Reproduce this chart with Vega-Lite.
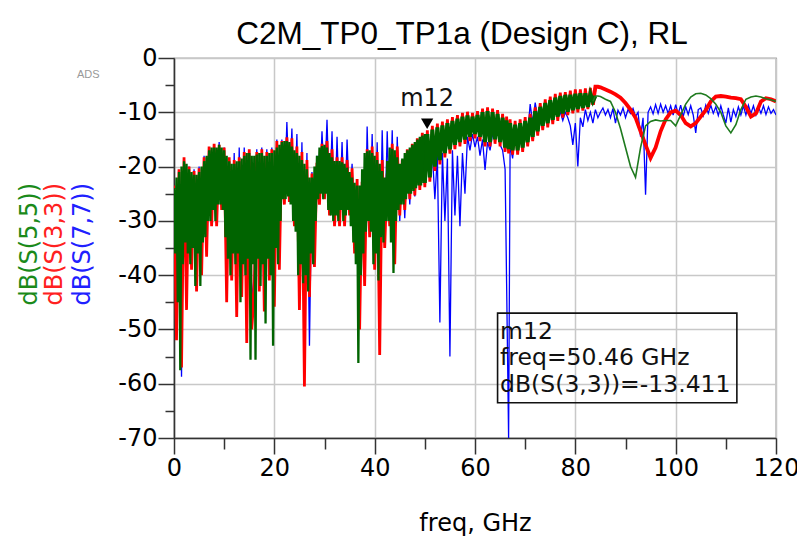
{
  "$schema": "https://vega.github.io/schema/vega-lite/v6.json",
  "width": 602,
  "height": 380,
  "autosize": {"type": "none"},
  "padding": {"left": 174, "top": 58, "right": 21, "bottom": 100},
  "background": "white",
  "config": {"view": {"stroke": "#555", "strokeWidth": 1.2}, "font": "Liberation Sans"},
  "title": {"text": "C2M_TP0_TP1a (Design C), RL", "fontSize": 31.5, "font": "Liberation Sans", "fontWeight": "normal", "color": "#000", "anchor": "middle", "frame": "group", "baseline": "alphabetic", "offset": -29, "dx": -13},
  "datasets": {
    "g0": [
      {"f":0,"g":-24},{"f":0.25,"g":-36},{"f":0.5,"g":-22},{"f":0.75,"g":-45},
      {"f":1,"g":-21},{"f":1.25,"g":-57.5},{"f":1.5,"g":-20},{"f":1.75,"g":-38},
      {"f":2,"g":-19},{"f":2.25,"g":-34},{"f":2.5,"g":-19.5},{"f":2.75,"g":-36},
      {"f":3,"g":-20.5},{"f":3.25,"g":-38},{"f":3.5,"g":-21},{"f":3.75,"g":-35},
      {"f":4,"g":-21.5},{"f":4.25,"g":-42},{"f":4.5,"g":-21.5},{"f":4.75,"g":-36},
      {"f":5,"g":-21},{"f":5.25,"g":-42},{"f":5.5,"g":-20},{"f":5.75,"g":-34},
      {"f":6,"g":-19},{"f":6.25,"g":-33},{"f":6.5,"g":-18},{"f":6.75,"g":-30},
      {"f":7,"g":-17},{"f":7.25,"g":-30},{"f":7.5,"g":-16.5},{"f":7.75,"g":-28},
      {"f":8,"g":-16.5},{"f":8.25,"g":-30},{"f":8.5,"g":-16.5},{"f":8.75,"g":-27},
      {"f":9,"g":-16},{"f":9.25,"g":-27},{"f":9.5,"g":-16.5},{"f":9.75,"g":-28},
      {"f":10,"g":-17},{"f":10.25,"g":-33},{"f":10.5,"g":-18},{"f":10.75,"g":-37},
      {"f":11,"g":-19},{"f":11.25,"g":-40},{"f":11.5,"g":-19.5},{"f":11.75,"g":-36},
      {"f":12,"g":-19.5},{"f":12.25,"g":-38},{"f":12.5,"g":-19},{"f":12.75,"g":-36},
      {"f":13,"g":-19},{"f":13.25,"g":-45},{"f":13.5,"g":-18.5},{"f":13.75,"g":-38},
      {"f":14,"g":-18},{"f":14.25,"g":-40},{"f":14.5,"g":-17.5},{"f":14.75,"g":-37},
      {"f":15,"g":-17.5},{"f":15.25,"g":-55.6},{"f":15.5,"g":-18},{"f":15.75,"g":-38},
      {"f":16,"g":-18},{"f":16.25,"g":-55.6},{"f":16.5,"g":-17.8},{"f":16.75,"g":-37},
      {"f":17,"g":-17.5},{"f":17.25,"g":-42},{"f":17.5,"g":-17.5},{"f":17.75,"g":-38},
      {"f":18,"g":-18},{"f":18.25,"g":-48.9},{"f":18.5,"g":-18},{"f":18.75,"g":-37},
      {"f":19,"g":-17.5},{"f":19.25,"g":-40},{"f":19.5,"g":-17.5},{"f":19.75,"g":-53},
      {"f":20,"g":-17},{"f":20.25,"g":-35},{"f":20.5,"g":-16.5},{"f":20.75,"g":-38},
      {"f":21,"g":-16},{"f":21.25,"g":-30},{"f":21.5,"g":-15.5},{"f":21.75,"g":-26},
      {"f":22,"g":-15.3},{"f":22.25,"g":-26},{"f":22.5,"g":-15.3},{"f":22.75,"g":-25.5},
      {"f":23,"g":-15.5},{"f":23.25,"g":-27},{"f":23.5,"g":-16.3},{"f":23.75,"g":-30},
      {"f":24,"g":-17},{"f":24.25,"g":-32},{"f":24.5,"g":-17.5},{"f":24.75,"g":-40},
      {"f":25,"g":-18},{"f":25.25,"g":-38},{"f":25.5,"g":-18.8},{"f":25.75,"g":-41.5},
      {"f":26,"g":-19.5},{"f":26.25,"g":-40},{"f":26.5,"g":-20.5},{"f":26.75,"g":-43},
      {"f":27,"g":-22},{"f":27.25,"g":-36},{"f":27.5,"g":-22},{"f":27.75,"g":-38},
      {"f":28,"g":-20},{"f":28.25,"g":-30},{"f":28.5,"g":-18},{"f":28.75,"g":-26},
      {"f":29,"g":-16.5},{"f":29.25,"g":-25},{"f":29.5,"g":-16.2},{"f":29.75,"g":-26},
      {"f":30,"g":-16},{"f":30.25,"g":-25},{"f":30.5,"g":-16.5},{"f":30.75,"g":-28},
      {"f":31,"g":-17.5},{"f":31.25,"g":-29},{"f":31.5,"g":-18.3},{"f":31.75,"g":-30},
      {"f":32,"g":-19},{"f":32.25,"g":-29},{"f":32.5,"g":-19},{"f":32.75,"g":-30},
      {"f":33,"g":-19},{"f":33.25,"g":-28},{"f":33.5,"g":-19.2},{"f":33.75,"g":-30},
      {"f":34,"g":-19.5},{"f":34.25,"g":-29},{"f":34.5,"g":-20.2},{"f":34.75,"g":-28},
      {"f":35,"g":-21},{"f":35.25,"g":-31},{"f":35.5,"g":-22},{"f":35.75,"g":-34},
      {"f":36,"g":-23},{"f":36.25,"g":-38},{"f":36.5,"g":-23.5},{"f":36.75,"g":-56.2},
      {"f":37,"g":-23.5},{"f":37.25,"g":-40},{"f":37.5,"g":-20.5},{"f":37.75,"g":-36},
      {"f":38,"g":-17.5},{"f":38.25,"g":-32},{"f":38.5,"g":-17.2},{"f":38.75,"g":-30},
      {"f":39,"g":-17},{"f":39.25,"g":-32},{"f":39.5,"g":-17.5},{"f":39.75,"g":-38},
      {"f":40,"g":-18},{"f":40.25,"g":-36},{"f":40.5,"g":-18.8},{"f":40.75,"g":-41},
      {"f":41,"g":-19.5},{"f":41.25,"g":-33},{"f":41.5,"g":-20.8},{"f":41.75,"g":-34},
      {"f":42,"g":-22},{"f":42.25,"g":-30},{"f":42.5,"g":-19},{"f":42.75,"g":-30},
      {"f":43,"g":-16.5},{"f":43.25,"g":-34},{"f":43.5,"g":-16.7},{"f":43.75,"g":-39.6},
      {"f":44,"g":-17},{"f":44.25,"g":-30},{"f":44.5,"g":-18.3},{"f":44.75,"g":-28},
      {"f":45,"g":-19.5},{"f":45.25,"g":-27},{"f":45.5,"g":-18.5},{"f":45.75,"g":-27},
      {"f":46,"g":-17.5},{"f":46.25,"g":-26},{"f":46.5,"g":-17},{"f":46.75,"g":-25},
      {"f":47,"g":-16.5},{"f":47.25,"g":-25},{"f":47.5,"g":-16},{"f":47.75,"g":-24.5},
      {"f":48,"g":-15.5},{"f":48.25,"g":-24},{"f":48.5,"g":-15},{"f":48.75,"g":-23.5},
      {"f":49,"g":-14.5},{"f":49.25,"g":-23.5},{"f":49.5,"g":-14.3},{"f":49.75,"g":-23},
      {"f":50,"g":-14}
    ],
    "sp": [
      {"f":0,"r":-23.5,"b":-24.5},
      {"f":0.5,"r":-52,"b":-40},
      {"f":1,"r":-20.5,"b":-21},
      {"f":1.5,"r":-57,"b":-58.7},
      {"f":2,"r":-18.3,"b":-19},
      {"f":2.5,"r":-46.4,"b":-35},
      {"f":3,"r":-20,"b":-20},
      {"f":3.5,"r":-39,"b":-36},
      {"f":4,"r":-20.8,"b":-20.5},
      {"f":4.5,"r":-43,"b":-42.4},
      {"f":5,"r":-20.3,"b":-20},
      {"f":5.5,"r":-40,"b":-38},
      {"f":6,"r":-18.3,"b":-18},
      {"f":6.5,"r":-36.6,"b":-34},
      {"f":7,"r":-16.3,"b":-16.5},
      {"f":7.5,"r":-31,"b":-30},
      {"f":8,"r":-15.8,"b":-16},
      {"f":8.5,"r":-31,"b":-29},
      {"f":9,"r":-16,"b":-15.5},
      {"f":9.5,"r":-28,"b":-27},
      {"f":10,"r":-16.5,"b":-16.5},
      {"f":10.5,"r":-45,"b":-38},
      {"f":11,"r":-18.3,"b":-18.5},
      {"f":11.5,"r":-41,"b":-40},
      {"f":12,"r":-18.8,"b":-17.5},
      {"f":12.5,"r":-47.7,"b":-45},
      {"f":13,"r":-18.3,"b":-16.5},
      {"f":13.5,"r":-44,"b":-42},
      {"f":14,"r":-17.3,"b":-16.5},
      {"f":14.5,"r":-52.5,"b":-48},
      {"f":15,"r":-16.8,"b":-17},
      {"f":15.5,"r":-50,"b":-45},
      {"f":16,"r":-43,"b":-40},
      {"f":16.5,"r":-17.3,"b":-16.8},
      {"f":17,"r":-43,"b":-40},
      {"f":17.5,"r":-16.8,"b":-16.5},
      {"f":18,"r":-46.7,"b":-44},
      {"f":18.5,"r":-17.3,"b":-16.8},
      {"f":19,"r":-41,"b":-38},
      {"f":19.5,"r":-16.8,"b":-16.5},
      {"f":20,"r":-45.8,"b":-42},
      {"f":20.5,"r":-15.3,"b":-15},
      {"f":21,"r":-39,"b":-36},
      {"f":21.5,"r":-15.3,"b":-15},
      {"f":22,"r":-27,"b":-26},
      {"f":22.5,"r":-14.6,"b":-11.8},
      {"f":23,"r":-26.5,"b":-25},
      {"f":23.5,"r":-14.8,"b":-13},
      {"f":24,"r":-31,"b":-29},
      {"f":24.5,"r":-16.3,"b":-14},
      {"f":25,"r":-46.4,"b":-40},
      {"f":25.5,"r":-17.3,"b":-15.5},
      {"f":26,"r":-60.5,"b":-44},
      {"f":26.5,"r":-18.8,"b":-17.5},
      {"f":27,"r":-44,"b":-53},
      {"f":27.5,"r":-21.3,"b":-21},
      {"f":28,"r":-38.5,"b":-37},
      {"f":28.5,"r":-19.3,"b":-18},
      {"f":29,"r":-27,"b":-26},
      {"f":29.5,"r":-15.8,"b":-13.5},
      {"f":30,"r":-26,"b":-24},
      {"f":30.5,"r":-15.3,"b":-11.4},
      {"f":31,"r":-29,"b":-27},
      {"f":31.5,"r":-16.8,"b":-13.5},
      {"f":32,"r":-31,"b":-30},
      {"f":32.5,"r":-18.3,"b":-14.5},
      {"f":33,"r":-31,"b":-29},
      {"f":33.5,"r":-18.3,"b":-15.5},
      {"f":34,"r":-31,"b":-30},
      {"f":34.5,"r":-18.8,"b":-15},
      {"f":35,"r":-29,"b":-28},
      {"f":35.5,"r":-20.3,"b":-19.5},
      {"f":36,"r":-36,"b":-33},
      {"f":36.5,"r":-22.3,"b":-23},
      {"f":37,"r":-50,"b":-45},
      {"f":37.5,"r":-22.8,"b":-22.5},
      {"f":38,"r":-42,"b":-39},
      {"f":38.5,"r":-16.8,"b":-12.6},
      {"f":39,"r":-33,"b":-31},
      {"f":39.5,"r":-16.3,"b":-14},
      {"f":40,"r":-39,"b":-36},
      {"f":40.5,"r":-17.3,"b":-15.5},
      {"f":41,"r":-54.7,"b":-40},
      {"f":41.5,"r":-18.8,"b":-13.3},
      {"f":42,"r":-35,"b":-33},
      {"f":42.5,"r":-21.3,"b":-13.5},
      {"f":43,"r":-31,"b":-30},
      {"f":43.5,"r":-15.8,"b":-13.3},
      {"f":44,"r":-38,"b":-35},
      {"f":44.5,"r":-16.3,"b":-14.5},
      {"f":45,"r":-29,"b":-30},
      {"f":45.5,"r":-18.8,"b":-19},
      {"f":46,"r":-28,"b":-29.5},
      {"f":46.5,"r":-16.8,"b":-17.5},
      {"f":47,"r":-26,"b":-27},
      {"f":47.5,"r":-15.8,"b":-16.5},
      {"f":48,"r":-25.3,"b":-25.5},
      {"f":48.5,"r":-14.8,"b":-15.5},
      {"f":49,"r":-24.3,"b":-24},
      {"f":49.5,"r":-13.8,"b":-14.5},
      {"f":50,"g":-23,"r":-23.8,"b":-23},
      {"f":50.5,"g":-14,"r":-13.3,"b":-14},
      {"f":51,"g":-22,"r":-22.8,"b":-22},
      {"f":51.5,"g":-13.2,"r":-12.5,"b":-17.5},
      {"f":52,"g":-20,"r":-20.8,"b":-26},
      {"f":52.5,"g":-12.8,"r":-12.1,"b":-18},
      {"f":53,"g":-18.8,"r":-19.6,"b":-48.7},
      {"f":53.5,"g":-12.4,"r":-11.7,"b":-17.5},
      {"f":54,"g":-17.5,"r":-18.3,"b":-30},
      {"f":54.5,"g":-12,"r":-11.3,"b":-18.5},
      {"f":55,"g":-16.8,"r":-17.6,"b":-55},
      {"f":55.5,"g":-11.6,"r":-10.9,"b":-17},
      {"f":56,"g":-16,"r":-16.8,"b":-29},
      {"f":56.5,"g":-11.2,"r":-10.5,"b":-18},
      {"f":57,"g":-15.5,"r":-16.3,"b":-31},
      {"f":57.5,"g":-10.8,"r":-10.1,"b":-17.5},
      {"f":58,"g":-15,"r":-15.8,"b":-25},
      {"f":58.5,"g":-10.6,"r":-9.9,"b":-14.5},
      {"f":59,"g":-14.5,"r":-15.3,"b":-17},
      {"f":59.5,"g":-10.8,"r":-10.1,"b":-14},
      {"f":60,"g":-14,"r":-14.8,"b":-16.4},
      {"f":60.5,"g":-10.5,"r":-9.8,"b":-14.5},
      {"f":61,"g":-14.5,"r":-15.3,"b":-18},
      {"f":61.5,"g":-10,"r":-9.3,"b":-15},
      {"f":62,"g":-15.5,"r":-16.3,"b":-20.6},
      {"f":62.5,"g":-9.8,"r":-9.1,"b":-15.5},
      {"f":63,"g":-15.5,"r":-16.3,"b":-17},
      {"f":63.5,"g":-10,"r":-9.3,"b":-14},
      {"f":64,"g":-15,"r":-15.8,"b":-15},
      {"f":64.5,"g":-10.3,"r":-9.6,"b":-12},
      {"f":65,"g":-15.5,"r":-16.3,"b":-16},
      {"f":65.5,"g":-11,"r":-10.3,"b":-17},
      {"f":66,"g":-16.5,"r":-17.3,"b":-20.5},
      {"f":66.3,"g":-11.5,"r":-10.8,"b":-41.5},
      {"f":66.7,"g":-16.8,"r":-17.6,"b":-70},
      {"f":67,"g":-12,"r":-11.3,"b":-16},
      {"f":67.5,"g":-17,"r":-17.8,"b":-18.5},
      {"f":68,"g":-12.3,"r":-11.6,"b":-13.5},
      {"f":68.5,"g":-17,"r":-17.8,"b":-17},
      {"f":69,"g":-12,"r":-11.3,"b":-13},
      {"f":69.5,"g":-16.5,"r":-17.3,"b":-16},
      {"f":70,"g":-11.6,"r":-10.9,"b":-11.5},
      {"f":70.5,"g":-15.5,"r":-16.3,"b":-14},
      {"f":71,"g":-11,"r":-10.3,"b":-8.5},
      {"f":71.5,"g":-14.5,"r":-15.3,"b":-12},
      {"f":72,"g":-9.8,"r":-9.1,"b":-8.2},
      {"f":72.5,"g":-13.5,"r":-14.3,"b":-11},
      {"f":73,"g":-9,"r":-8.3,"b":-8.6},
      {"f":73.5,"g":-12.5,"r":-13.3,"b":-12},
      {"f":74,"g":-8.3,"r":-7.6,"b":-9.5},
      {"f":74.5,"g":-12,"r":-12.8,"b":-11.5},
      {"f":75,"g":-7.8,"r":-7.1,"b":-9.5},
      {"f":75.5,"g":-11.4,"r":-12.2,"b":-11.5},
      {"f":76,"g":-7.3,"r":-6.6,"b":-9.8},
      {"f":76.5,"g":-10.8,"r":-11.6,"b":-11},
      {"f":77,"g":-7,"r":-6.4,"b":-10},
      {"f":77.5,"g":-10.2,"r":-11,"b":-11.5},
      {"f":78,"g":-6.8,"r":-6.3,"b":-10},
      {"f":78.5,"g":-9.9,"r":-10.5,"b":-11},
      {"f":79,"g":-6.8,"r":-6,"b":-12.5},
      {"f":79.5,"g":-9.6,"r":-10.2,"b":-16},
      {"f":80,"g":-6.6,"r":-5.8,"b":-12},
      {"f":80.5,"g":-9.4,"r":-10,"b":-20},
      {"f":81,"g":-6.5,"r":-5.8,"b":-11},
      {"f":81.5,"g":-9.2,"r":-9.7,"b":-12.7},
      {"f":82,"g":-6.5,"r":-5.6,"b":-9.5},
      {"f":82.5,"g":-9,"r":-9.4,"b":-11.5},
      {"f":83,"g":-6.6,"r":-5.5,"b":-10},
      {"f":83.5,"g":-8,"r":-8.6,"b":-12},
      {"f":84,"g":-7,"r":-5.3,"b":-9.5},
      {"f":84.5,"g":-7,"r":-5.3,"b":-11},
      {"f":85,"g":-7.1,"r":-5.4,"b":-10},
      {"f":85.5,"b":-9.2},
      {"f":86,"g":-7.6,"r":-5.8,"b":-10.5},
      {"f":86.5,"b":-9.5},
      {"f":87,"g":-8,"r":-6.2,"b":-11},
      {"f":87.5,"b":-9.3},
      {"f":88,"g":-10,"r":-6.7,"b":-12},
      {"f":88.5,"b":-9.6},
      {"f":89,"g":-13,"r":-7.3,"b":-10.5},
      {"f":89.5,"b":-9.2},
      {"f":90,"g":-16.5,"r":-8.3,"b":-11},
      {"f":90.5,"b":-9.5},
      {"f":91,"g":-20,"r":-9.5,"b":-10.2},
      {"f":91.5,"b":-9.3},
      {"f":92,"g":-22,"r":-11,"b":-10.8},
      {"f":92.5,"b":-10},
      {"f":93,"g":-16.5,"r":-13.5,"b":-14.5},
      {"f":93.5,"b":-11},
      {"f":94,"g":-12.5,"r":-16,"b":-25.2},
      {"f":94.5,"b":-10},
      {"f":95,"g":-11.7,"r":-18.4,"b":-9},
      {"f":95.5,"b":-10.3},
      {"f":96,"g":-11.4,"r":-16.5,"b":-8.6},
      {"f":96.5,"b":-10.2},
      {"f":97,"g":-11.6,"r":-13.5,"b":-8.5},
      {"f":97.5,"b":-10},
      {"f":98,"g":-11.5,"r":-11.3,"b":-8.8},
      {"f":98.5,"b":-10.2},
      {"f":99,"g":-11.5,"r":-10,"b":-8.8},
      {"f":99.5,"b":-10.5},
      {"f":100,"g":-12.5,"r":-9.7,"b":-8.6},
      {"f":100.5,"b":-10.3},
      {"f":101,"g":-10.5,"r":-10.5,"b":-8.7},
      {"f":101.5,"b":-10.8},
      {"f":102,"g":-8.5,"r":-12,"b":-9},
      {"f":102.5,"b":-10.4},
      {"f":103,"g":-7.2,"r":-12.6,"b":-8.8},
      {"f":103.5,"b":-10.5},
      {"f":104,"g":-6.6,"r":-12,"b":-13.8},
      {"f":104.5,"b":-9.5},
      {"f":105,"g":-6.5,"r":-10.8,"b":-9.2},
      {"f":105.5,"b":-10.6},
      {"f":106,"g":-6.8,"r":-9.6,"b":-8.7},
      {"f":106.5,"b":-10.2},
      {"f":107,"g":-7.5,"r":-8,"b":-8.7},
      {"f":107.5,"b":-10.2},
      {"f":108,"g":-8.5,"r":-7.1,"b":-9},
      {"f":108.5,"b":-10.6},
      {"f":109,"g":-10,"r":-7,"b":-8.8},
      {"f":109.5,"b":-10.5},
      {"f":110,"g":-12.5,"r":-7.1,"b":-12},
      {"f":110.5,"b":-9.2},
      {"f":111,"g":-13.8,"r":-7.3,"b":-11.8},
      {"f":111.5,"b":-9.5},
      {"f":112,"g":-12.3,"r":-7.4,"b":-10.8},
      {"f":112.5,"b":-9},
      {"f":113,"g":-9.5,"r":-7.6,"b":-10.5},
      {"f":113.5,"b":-8.8},
      {"f":114,"g":-7.6,"r":-9,"b":-10.5},
      {"f":114.5,"b":-8.7},
      {"f":115,"g":-7.2,"r":-10.8,"b":-10.2},
      {"f":115.5,"b":-8.8},
      {"f":116,"g":-7,"r":-10.2,"b":-10.5},
      {"f":116.5,"b":-9},
      {"f":117,"g":-7.2,"r":-8,"b":-10.2},
      {"f":117.5,"b":-8.8},
      {"f":118,"g":-7.5,"r":-7.4,"b":-10.4},
      {"f":118.5,"b":-9},
      {"f":119,"g":-7.7,"r":-7.6,"b":-10.2},
      {"f":119.5,"b":-9.5},
      {"f":120,"g":-8,"r":-8,"b":-10.5}
    ],
    "ylab": [
      {"t":"dB(S(5,5))","f":-28.8,"v":-34.3,"c":"g"},
      {"t":"dB(S(3,3))","f":-23.8,"v":-34.3,"c":"r"},
      {"t":"dB(S(7,7))","f":-18.2,"v":-34.3,"c":"b"}
    ],
    "ads": [{"t":"ADS","f":-17.1,"v":-3.1}],
    "marker": [{"t":"m12","f":50.46,"v":-13.411}],
    "box": [{"f":64.5,"f2":112.2,"v":-47,"v2":-63.5}],
    "boxtext": [
      {"t":"m12","f":65,"v":-51.75},
      {"t":"freq=50.46 GHz","f":65,"v":-56.6},
      {"t":"dB(S(3,3))=-13.411","f":65,"v":-61.5}
    ]
  },
  "encoding": {
    "x": {"field": "f", "type": "quantitative", "scale": {"domain": [0, 120], "nice": false, "zero": false},
      "axis": {"values": [0,10,20,30,40,50,60,70,80,90,100,110,120],
        "labelExpr": "datum.value % 20 === 0 ? '' + datum.value : ''",
        "tickSize": {"condition": {"test": "datum.value % 20 === 0", "value": 16}, "value": 11},
        "gridOpacity": {"condition": {"test": "datum.value % 20 === 0", "value": 1}, "value": 0},
        "grid": true, "gridColor": "#c8c8c8", "gridWidth": 1.5,
        "domainColor": "#333", "domainWidth": 1.5, "tickColor": "#333", "tickWidth": 1.5,
        "labelFontSize": 24, "labelColor": "#000", "labelFont": "DejaVu Sans", "labelPadding": 2,
        "labelFlush": false, "labelOverlap": false,
        "title": "freq, GHz", "titleFontSize": 24, "titleFontWeight": "normal", "titleColor": "#000", "titleFont": "DejaVu Sans", "titlePadding": 31}},
    "y": {"field": "v", "type": "quantitative", "scale": {"domain": [-70, 0], "nice": false, "zero": false},
      "axis": {"values": [-70,-65,-60,-55,-50,-45,-40,-35,-30,-25,-20,-15,-10,-5,0],
        "labelExpr": "datum.value % 10 === 0 ? '' + datum.value : ''",
        "tickSize": {"condition": {"test": "datum.value % 10 === 0", "value": 16}, "value": 9},
        "gridOpacity": {"condition": {"test": "datum.value % 10 === 0", "value": 1}, "value": 0},
        "grid": true, "gridColor": "#c8c8c8", "gridWidth": 1.5,
        "domainColor": "#333", "domainWidth": 1.5, "tickColor": "#333", "tickWidth": 1.5,
        "labelFontSize": 24, "labelColor": "#000", "labelFont": "DejaVu Sans", "labelPadding": 1,
        "labelFlush": false, "labelOverlap": false,
        "title": null}}
  },
  "layer": [
    {
      "data": {"name": "sp"},
      "transform": [{"fold": ["b"], "as": ["s", "v"]}, {"filter": "isValid(datum.v)"}],
      "mark": {"type": "line", "color": "#0000ff", "strokeWidth": 1.3, "clip": true}
    },
    {
      "data": {"name": "sp"},
      "transform": [{"fold": ["r"], "as": ["s", "v"]}, {"filter": "isValid(datum.v) && datum.f <= 84"}],
      "mark": {"type": "line", "color": "#ff0000", "strokeWidth": 2.8, "clip": true}
    },
    {
      "data": {"name": "sp"},
      "transform": [{"fold": ["r"], "as": ["s", "v"]}, {"filter": "isValid(datum.v) && datum.f >= 83.5"}],
      "mark": {"type": "line", "color": "#ff0000", "strokeWidth": 3.8, "clip": true}
    },
    {
      "data": {"name": "g0"},
      "transform": [{"fold": ["g"], "as": ["s", "v"]}],
      "mark": {"type": "line", "color": "#006400", "strokeWidth": 2.3, "clip": true}
    },
    {
      "data": {"name": "sp"},
      "transform": [{"fold": ["g"], "as": ["s", "v"]}, {"filter": "isValid(datum.v) && datum.f <= 84"}],
      "mark": {"type": "line", "color": "#006400", "strokeWidth": 4, "clip": true}
    },
    {
      "data": {"name": "sp"},
      "transform": [{"fold": ["g"], "as": ["s", "v"]}, {"filter": "isValid(datum.v) && datum.f >= 83.5"}],
      "mark": {"type": "line", "color": "#1e7a1e", "strokeWidth": 1.6, "clip": true}
    },
    {
      "data": {"name": "marker"},
      "mark": {"type": "point", "shape": "triangle-down", "filled": true, "color": "#000", "size": 150, "yOffset": -7, "opacity": 1}
    },
    {
      "data": {"name": "marker"},
      "mark": {"type": "text", "fontSize": 24, "font": "DejaVu Sans", "color": "#111", "dy": -32, "baseline": "middle", "align": "center"},
      "encoding": {"text": {"field": "t"}}
    },
    {
      "data": {"name": "box"},
      "mark": {"type": "rect", "fill": null, "fillOpacity": 0, "stroke": "#111", "strokeWidth": 1.6},
      "encoding": {"x2": {"field": "f2"}, "y2": {"field": "v2"}}
    },
    {
      "data": {"name": "boxtext"},
      "mark": {"type": "text", "fontSize": 23.5, "font": "DejaVu Sans", "color": "#111", "align": "left", "baseline": "alphabetic"},
      "encoding": {"text": {"field": "t"}}
    },
    {
      "data": {"name": "ylab"},
      "mark": {"type": "text", "fontSize": 24, "font": "DejaVu Sans", "angle": 270, "align": "center", "baseline": "middle", "clip": false},
      "encoding": {
        "text": {"field": "t"},
        "color": {"field": "c", "type": "nominal", "scale": {"domain": ["g","r","b"], "range": ["#1a8a1a","#ff2020","#2020ff"]}, "legend": null}
      }
    },
    {
      "data": {"name": "ads"},
      "mark": {"type": "text", "fontSize": 11, "font": "Liberation Sans", "color": "#999", "align": "center", "baseline": "middle", "clip": false},
      "encoding": {"text": {"field": "t"}}
    }
  ]
}
